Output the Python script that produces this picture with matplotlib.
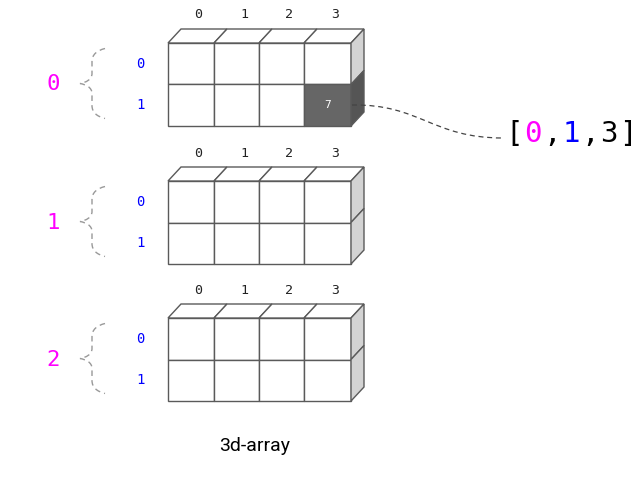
import numpy as np
import matplotlib.pyplot as plt
from matplotlib.patches import Polygon, PathPatch
from matplotlib.path import Path

# data
blocks = [0, 1, 2]
rows = [0, 1]
cols = [0, 1, 2, 3]
pick = (0, 1, 3)
pick_value = 7
block_tops = [43, 181, 318]
col_edges = [168, 214, 259, 304, 351]
row_h = 41.5
dx, dy = 13, -14

fig = plt.figure(figsize=(6.4, 4.86), dpi=100)
ax = fig.add_axes([0, 0, 1, 1])
ax.set_xlim(0, 640)
ax.set_ylim(486, 0)
ax.axis('off')

edge = '#5a5a5a'
mono = 'DejaVu Sans Mono'

for b, top in zip(blocks, block_tops):
    # front cells
    for r in rows:
        for c in cols:
            x0, x1 = col_edges[c], col_edges[c + 1]
            y0 = top + r * row_h
            hit = (b, r, c) == pick
            fc = '#666666' if hit else 'white'
            ax.add_patch(Polygon([(x0, y0), (x1, y0), (x1, y0 + row_h), (x0, y0 + row_h)],
                                 closed=True, fc=fc, ec=edge, lw=1))
            if hit:
                ax.text((x0 + x1) / 2, y0 + row_h / 2, str(pick_value), color='white',
                        fontsize=8, ha='center', va='center', fontfamily=mono)
    # top face
    for c in cols:
        x0, x1 = col_edges[c], col_edges[c + 1]
        ax.add_patch(Polygon([(x0, top), (x1, top), (x1 + dx, top + dy), (x0 + dx, top + dy)],
                             closed=True, fc='white', ec=edge, lw=1))
        ax.text((x0 + x1) / 2 + dx / 2 + 1, top - 28, str(c), fontsize=9.5,
                ha='center', va='center', fontfamily=mono, color='#222222')
    # right side
    xr = col_edges[-1]
    for r in rows:
        y0 = top + r * row_h
        hit = (b, r, cols[-1]) == pick
        fc = '#555555' if hit else '#d3d3d3'
        ax.add_patch(Polygon([(xr, y0), (xr + dx, y0 + dy), (xr + dx, y0 + dy + row_h), (xr, y0 + row_h)],
                             closed=True, fc=fc, ec=edge, lw=1))
    # row labels
    for r in rows:
        ax.text(140, top + r * row_h + row_h / 2, str(r), fontsize=10, ha='center', va='center',
                fontfamily=mono, color='blue')
    # block label
    mid = top + row_h
    ax.text(53, mid, str(b), fontsize=16, ha='center', va='center', fontfamily=mono, color='magenta')
    # brace
    m = mid - 1
    verts = [(105, m - 35),
             (97, m - 33), (92, m - 29), (92, m - 22),
             (92, m - 10),
             (92, m - 4), (86, m - 1), (80, m),
             (86, m + 1), (92, m + 4), (92, m + 10),
             (92, m + 22),
             (92, m + 29), (97, m + 33), (105, m + 35)]
    codes = [Path.MOVETO,
             Path.CURVE4, Path.CURVE4, Path.CURVE4,
             Path.LINETO,
             Path.CURVE4, Path.CURVE4, Path.CURVE4,
             Path.CURVE4, Path.CURVE4, Path.CURVE4,
             Path.LINETO,
             Path.CURVE4, Path.CURVE4, Path.CURVE4]
    ax.add_patch(PathPatch(Path(verts, codes), fc='none', ec='#999999', lw=1, ls=(0, (4, 3))))

# connector
verts = [(352, 105), (420, 104), (432, 138), (503, 138)]
codes = [Path.MOVETO, Path.CURVE4, Path.CURVE4, Path.CURVE4]
ax.add_patch(PathPatch(Path(verts, codes), fc='none', ec='#444444', lw=0.9, ls=(0, (4, 3))))

chars = ['[', str(pick[0]), ',', str(pick[1]), ',', str(pick[2]), ']']
colors = ['black', 'magenta', 'black', 'blue', 'black', 'black', 'black']
for i, (ch, co) in enumerate(zip(chars, colors)):
    ax.text(514 + i * 19, 134, ch, fontsize=21, ha='center', va='center', fontfamily=mono, color=co)

ax.text(255, 446, '3d-array', fontsize=14, ha='center', va='center', fontfamily='Roboto', color='black')

fig.savefig('out.png', dpi=100)
